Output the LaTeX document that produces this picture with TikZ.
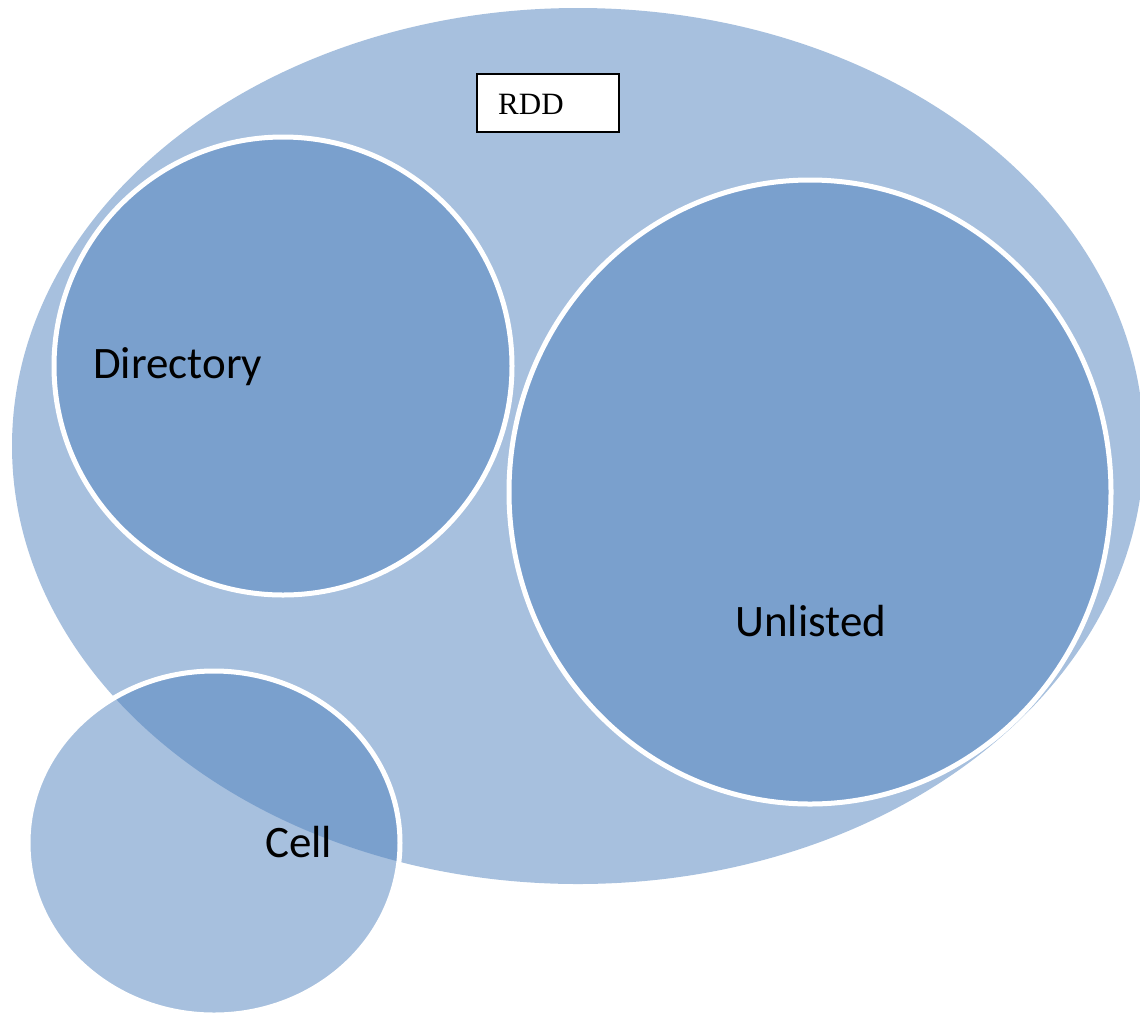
\documentclass[tikz,border=0pt]{standalone}
\usepackage{fontspec}
\setmainfont{Liberation Serif}
\newfontfamily\labelfont{Carlito}
\definecolor{accent}{RGB}{79,129,189}
\begin{document}
\begin{tikzpicture}[x=1pt,y=-1pt,
  blob/.style={fill=accent,fill opacity=0.5},
  ringed/.style={blob,draw=white,line width=5pt},
  setlabel/.style={font=\labelfont\fontsize{45}{52}\selectfont,text=black,inner sep=0pt,anchor=base west},
  tagbox/.style={draw=black,line width=1.5pt,fill=white,minimum width=142pt,minimum height=58pt,inner sep=0pt}]
\useasboundingbox (0,0) rectangle (1140,1013);
% outer set
\fill[blob] (578,446) ellipse [x radius=566pt,y radius=438pt];
% inner sets
\draw[ringed] (283,366) ellipse [x radius=229pt,y radius=229pt];
\draw[ringed] (810,492) ellipse [x radius=301pt,y radius=312pt];
\draw[ringed] (214,843) ellipse [x radius=186pt,y radius=172pt];
% labels
\node[tagbox] (rdd) at (548,103) {};
\node[font=\fontsize{31}{36}\selectfont,inner sep=0pt,anchor=base west] (rddtext) at (498,114) {RDD};
\node[setlabel] (dir) at (93,378) {Directory};
\node[setlabel] (unl) at (735,636) {Unlisted};
\node[setlabel] (cell) at (265,857) {Cell};
\end{tikzpicture}
\end{document}
